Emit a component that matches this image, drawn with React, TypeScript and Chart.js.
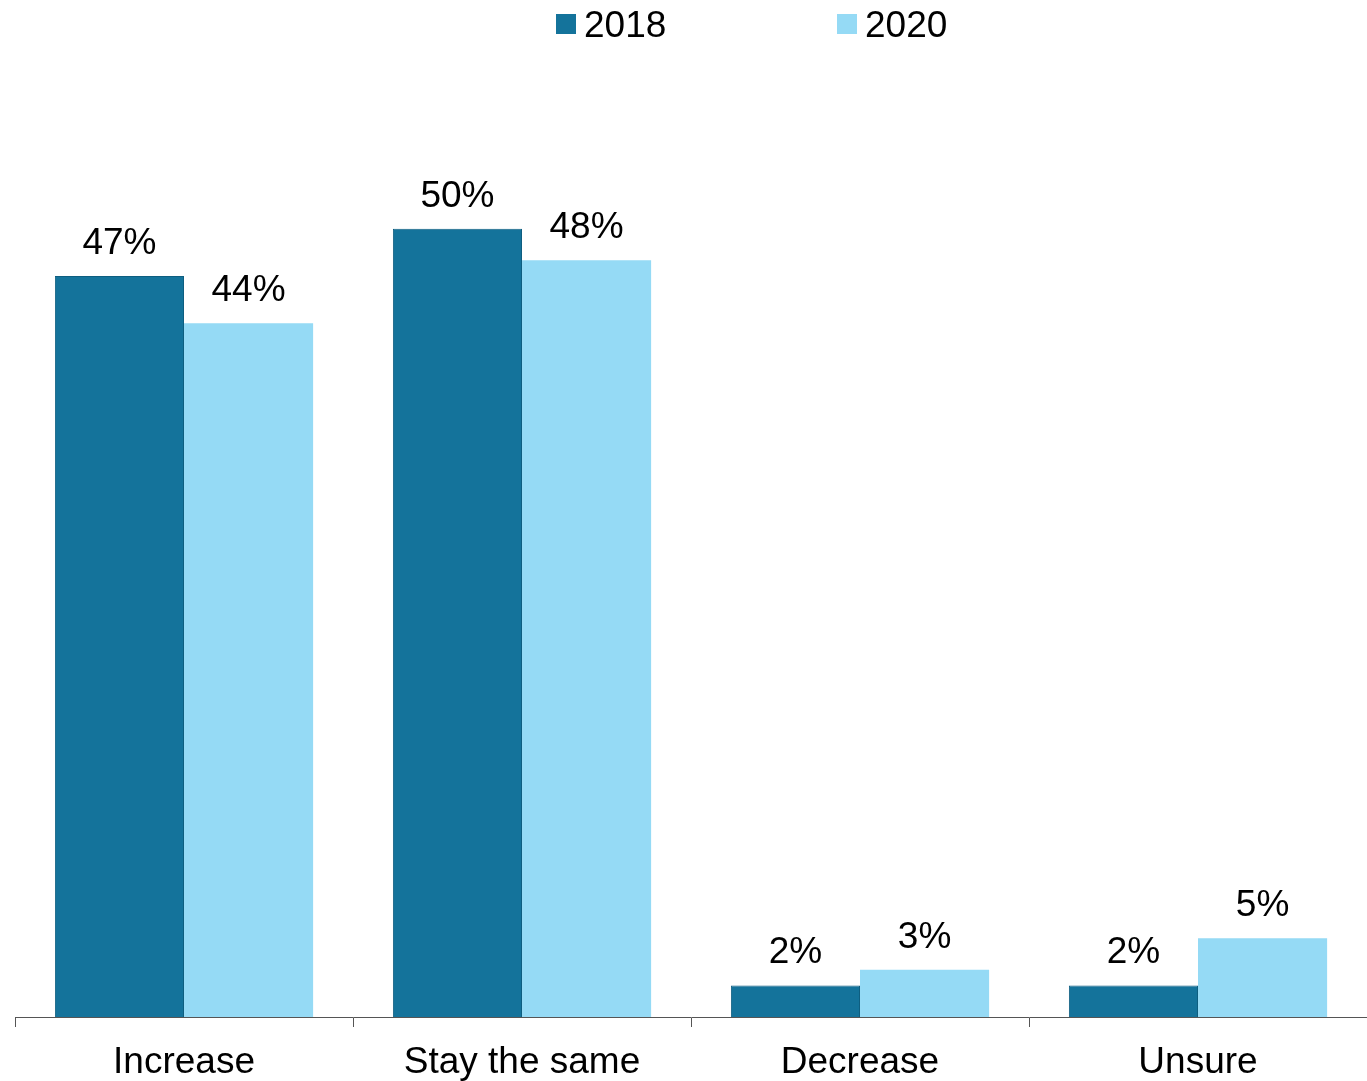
import React, { useEffect, useRef } from "react";
import { Chart, registerables } from "chart.js";

Chart.register(...registerables);

const categories = ["Increase", "Stay the same", "Decrease", "Unsure"];
const seriesNames = ["2018", "2020"];
const values2018 = [47, 50, 2, 2];
const values2020 = [44, 48, 3, 5];

const FONT = "'Liberation Sans', Arial, sans-serif";
const DARK = "#14739B";
const LIGHT = "#95DAF5";

const labelPlugin = {
  id: "barLabels",
  afterDatasetsDraw(chart: any) {
    const ctx = chart.ctx;
    ctx.save();
    ctx.font = `37px ${FONT}`;
    ctx.fillStyle = "#000";
    ctx.textAlign = "center";
    ctx.textBaseline = "alphabetic";
    chart.data.datasets.forEach((ds: any, i: number) => {
      const meta = chart.getDatasetMeta(i);
      meta.data.forEach((bar: any, j: number) => {
        ctx.fillText(ds.data[j] + "%", bar.x, bar.y - 22);
      });
    });
    ctx.restore();
  },
};

const legendPlugin = {
  id: "customLegend",
  afterDraw(chart: any) {
    const ctx = chart.ctx;
    const positions = [556, 837];
    ctx.save();
    ctx.font = `37px ${FONT}`;
    ctx.textBaseline = "alphabetic";
    ctx.textAlign = "left";
    chart.data.datasets.forEach((ds: any, i: number) => {
      const x = positions[i];
      ctx.fillStyle = ds.backgroundColor;
      ctx.fillRect(x, 14, 20, 20);
      ctx.fillStyle = "#000";
      ctx.fillText(ds.label, x + 28, 37);
    });
    ctx.restore();
  },
};

export default function App() {
  const ref = useRef<HTMLCanvasElement>(null);
  useEffect(() => {
    if (!ref.current) return;
    const chart = new Chart(ref.current, {
      type: "bar",
      data: {
        labels: categories,
        datasets: [
          {
            label: seriesNames[0],
            data: values2018,
            backgroundColor: DARK,
            borderColor: "#0E5E80",
            borderWidth: 1,
          },
          {
            label: seriesNames[1],
            data: values2020,
            backgroundColor: LIGHT,
            borderWidth: 0,
          },
        ],
      },
      options: {
        responsive: false,
        animation: false,
        layout: { padding: { top: 71, left: 15, right: 0, bottom: 0 } },
        datasets: { bar: { categoryPercentage: 0.764, barPercentage: 1.0 } },
        plugins: {
          legend: { display: false },
          tooltip: { enabled: false },
        },
        scales: {
          x: {
            afterFit: (scale: any) => {
              scale.height = 64;
            },
            grid: {
              display: true,
              drawOnChartArea: false,
              drawTicks: true,
              tickLength: 10,
              color: "#555",
              offset: true,
            },
            border: { display: true, color: "#555", width: 1 },
            ticks: {
              color: "#000",
              font: { family: FONT, size: 37, lineHeight: 0.68 },
              padding: 23,
              maxRotation: 0,
            },
          },
          y: {
            display: false,
            min: 0,
            max: 60,
          },
        },
      },
      plugins: [labelPlugin, legendPlugin],
    });
    return () => chart.destroy();
  }, []);
  return (
    <div style={{ position: "fixed", left: 0, top: 0, width: 1367, height: 1081, background: "#fff" }}>
      <canvas ref={ref} width={1367} height={1081} />
    </div>
  );
}
